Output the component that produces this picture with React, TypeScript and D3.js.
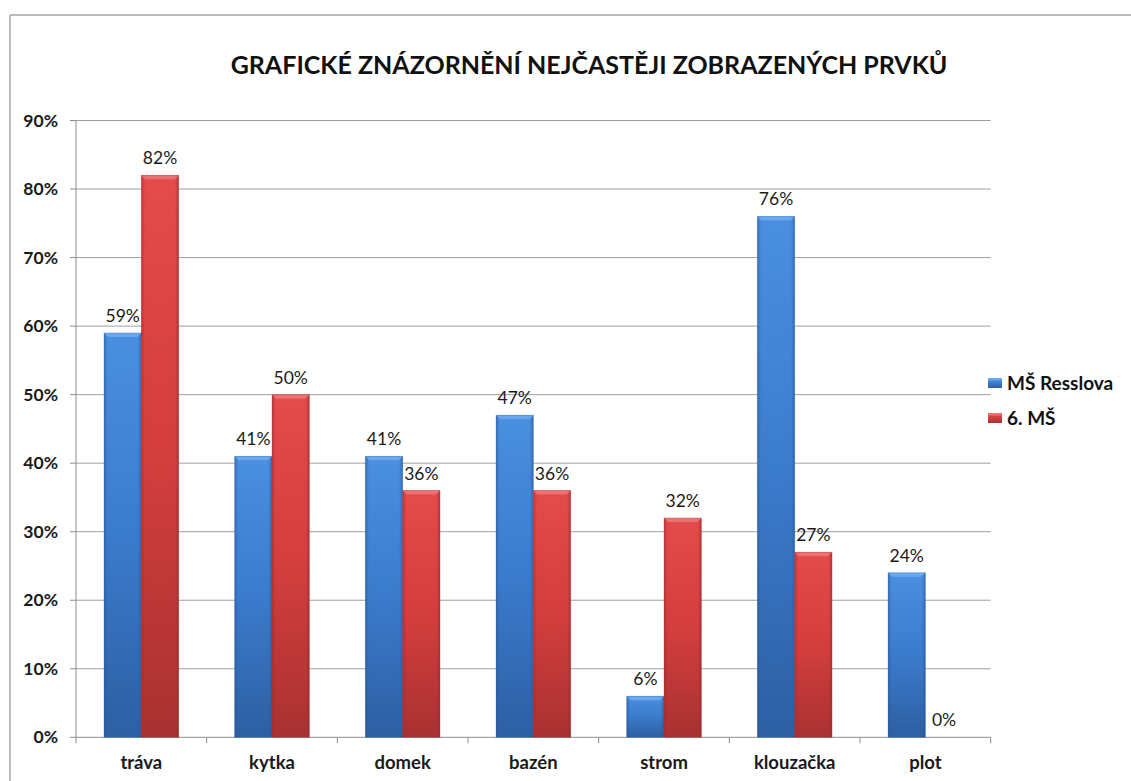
import React from "react";
import * as d3 from "d3";

const categories = ["tráva", "kytka", "domek", "bazén", "strom", "klouzačka", "plot"];
const seriesNames = ["MŠ Resslova", "6. MŠ"];
const resslova = [59, 41, 41, 47, 6, 76, 24];
const sestaMS = [82, 50, 36, 36, 32, 27, 0];
const yTicks = [0, 10, 20, 30, 40, 50, 60, 70, 80, 90];
const title = "GRAFICKÉ ZNÁZORNĚNÍ NEJČASTĚJI ZOBRAZENÝCH PRVKŮ";

const W = 1131;
const H = 781;
const PL = 76;
const PR = 990.7;
const PT = 120.5;
const PB = 737.3;
const FONT = "Lato, 'Open Sans', sans-serif";

const colors = [
  { top: "#4a8fe0", mid: "#3b7bcc", bot: "#2d5fa3", edge: "#2a5a99", hi: "#6aa8ee" },
  { top: "#e44b4b", mid: "#d43e3e", bot: "#a93131", edge: "#9c2c2c", hi: "#ef7070" },
];

function SText(props: any) {
  const { x, y, anchor = "middle", children, size, weight = "normal", fill = "#1a1a1a", sx = 1 } = props;
  return (
    <text
      transform={`translate(${x},${y}) scale(${sx},1)`}
      textAnchor={anchor}
      fontFamily={FONT}
      fontSize={size}
      fontWeight={weight}
      fill={fill}
    >
      {children}
    </text>
  );
}

export default function App() {
  const x0 = d3.scaleBand<string>().domain(categories).range([PL, PR]).paddingInner(0).paddingOuter(0);
  const x1 = d3
    .scaleBand<string>()
    .domain(seriesNames)
    .range([0, x0.step()])
    .paddingInner(0)
    .paddingOuter(0.75);
  const y = d3.scaleLinear().domain([0, 90]).range([PB, PT]);
  const series = [resslova, sestaMS];
  const bw = x1.bandwidth();

  return (
    <svg width={W} height={H} style={{ position: "absolute", left: 0, top: 0 }}>
      <defs>
        {colors.map((c, i) => (
          <linearGradient key={i} id={`g${i}`} x1="0" y1="0" x2="0" y2="1">
            <stop offset="0" stopColor={c.top} />
            <stop offset="0.5" stopColor={c.mid} />
            <stop offset="1" stopColor={c.bot} />
          </linearGradient>
        ))}
        {colors.map((c, i) => (
          <linearGradient key={"h" + i} id={`s${i}`} x1="0" y1="0" x2="1" y2="0">
            <stop offset="0" stopColor={c.edge} stopOpacity={0.55} />
            <stop offset="0.1" stopColor={c.edge} stopOpacity={0} />
            <stop offset="0.9" stopColor={c.edge} stopOpacity={0} />
            <stop offset="1" stopColor={c.edge} stopOpacity={0.6} />
          </linearGradient>
        ))}
      </defs>
      <rect x={0} y={0} width={W} height={H} fill="#ffffff" />
      {/* chart border */}
      <line x1={10} y1={15} x2={W} y2={15} stroke="#a6a6a6" strokeWidth={1.5} />
      <line x1={10} y1={15} x2={10} y2={H} stroke="#a6a6a6" strokeWidth={1.5} />

      <SText x={589} y={74} size={25} weight="bold" fill="#111">
        {title}
      </SText>

      {/* gridlines */}
      {yTicks.map((t) => (
        <g key={t}>
          {t > 0 && (
            <line x1={PL} x2={PR} y1={y(t)} y2={y(t)} stroke="#a0a0a0" strokeWidth={1} />
          )}
          <line x1={PL - 6} x2={PL} y1={y(t)} y2={y(t)} stroke="#8c8c8c" strokeWidth={1} />
          <SText x={PL - 18} y={y(t) + 6} anchor="end" size={17.5} weight="bold">
            {`${t}%`}
          </SText>
        </g>
      ))}

      {/* axes */}
      <line x1={PL} x2={PL} y1={PT} y2={PB} stroke="#8c8c8c" strokeWidth={1} />
      <line x1={PL} x2={PR} y1={PB} y2={PB} stroke="#8c8c8c" strokeWidth={1} />
      {categories.map((c, i) => (
        <line key={"t" + i} x1={x0(c)!} x2={x0(c)!} y1={PB} y2={PB + 6} stroke="#8c8c8c" />
      ))}
      <line x1={PR} x2={PR} y1={PB} y2={PB + 6} stroke="#8c8c8c" />

      {/* bars */}
      {categories.map((c, i) => (
        <g key={c}>
          {series.map((vals, s) => {
            const v = vals[i];
            const bx = x0(c)! + x1(seriesNames[s])!;
            const by = y(v);
            const bh = PB - by;
            const col = colors[s];
            return (
              <g key={s}>
                {bh > 0 && (
                  <g>
                    <rect x={bx} y={by} width={bw} height={bh} fill={`url(#g${s})`} />
                    <rect x={bx} y={by} width={bw} height={bh} fill={`url(#s${s})`} />
                    <polygon
                      points={`${bx},${by} ${bx + bw},${by} ${bx + bw - 4},${by + 4} ${bx + 4},${by + 4}`}
                      fill={col.hi}
                    />
                    <rect x={bx} y={by} width={bw} height={bh} fill="none" stroke={col.edge} strokeOpacity={0.35} strokeWidth={0.8} />
                  </g>
                )}
                <SText x={bx + bw / 2} y={by - 11} size={17.5}>
                  {`${v}%`}
                </SText>
              </g>
            );
          })}
          <SText x={x0(c)! + x0.bandwidth() / 2} y={769} size={18.5} weight="bold">
            {c}
          </SText>
        </g>
      ))}

      {/* legend */}
      {seriesNames.map((n, s) => {
        const ly = 378 + s * 35;
        return (
          <g key={n}>
            <rect x={988} y={ly} width={14} height={10} fill={`url(#g${s})`} />
            <rect x={988} y={ly} width={14} height={2.5} fill={colors[s].hi} />
            <SText x={1007} y={ly + 12} anchor="start" size={19} weight="bold" fill="#111">
              {n}
            </SText>
          </g>
        );
      })}
    </svg>
  );
}
